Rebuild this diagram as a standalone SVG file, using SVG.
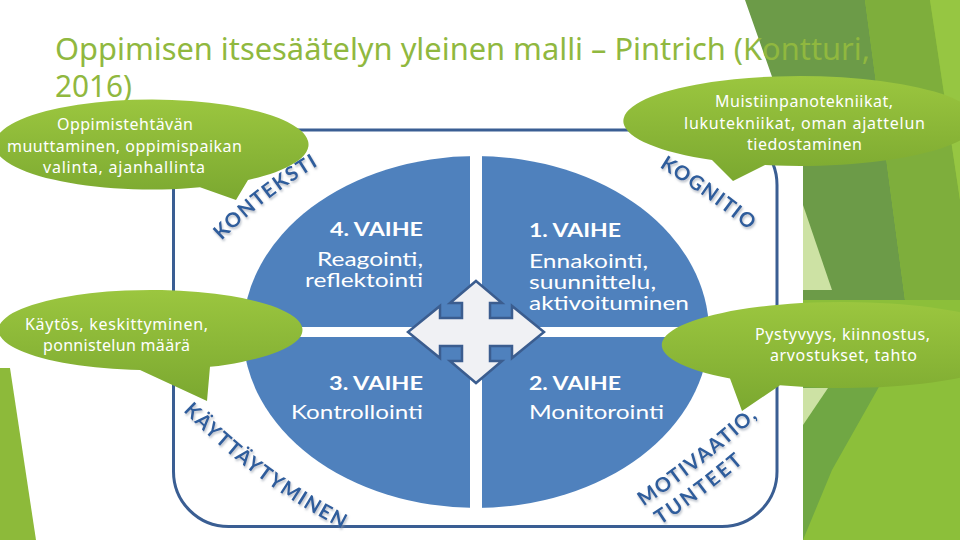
<svg xmlns="http://www.w3.org/2000/svg" width="960" height="540" viewBox="0 0 960 540">
<defs>
<style>
.title{font-family:"Noto Sans","Liberation Sans",sans-serif;font-size:30px;fill:#90B83F}
.bub{font-family:"Noto Sans","Liberation Sans",sans-serif;font-size:16px;fill:#FFFFFF}
.qh{font-family:Lato,"Liberation Sans",sans-serif;font-size:19px;font-weight:700;fill:#FFFFFF}
.qt{font-family:Lato,"Liberation Sans",sans-serif;font-size:19px;fill:#FFFFFF}
.arc{font-family:Lato,"Liberation Sans",sans-serif;font-size:20px;font-weight:700;fill:#2E5D9C;letter-spacing:1.5px}
.quad{fill:#4F81BD}
.bubble{fill:url(#bg)}
</style>
<linearGradient id="bg" x1="0" y1="0" x2="0" y2="1">
<stop offset="0" stop-color="#9BC63F"/>
<stop offset="1" stop-color="#7BA830"/>
</linearGradient>
<clipPath id="circ"><ellipse cx="476" cy="332" rx="233" ry="176"/></clipPath>
<filter id="sh" x="-20%" y="-20%" width="140%" height="140%">
<feDropShadow dx="1" dy="2" stdDeviation="1" flood-color="#8A94A6" flood-opacity="0.6"/>
</filter>
<path id="pKon" d="M 216 246 Q 267 194 326 161"/>
<path id="pKog" d="M 651 162 Q 711 198 757 237"/>
<path id="pKay" d="M 177 405 Q 255 486 351 533"/>
<path id="pMot" d="M 635 512 Q 703 468 766 409"/>
<path id="pTun" d="M 654 529 Q 704 497 751 456"/>
</defs>
<rect x="0" y="0" width="960" height="540" fill="#FFFFFF"/>
<g id="decor">
<rect x="803" y="0" width="157" height="540" fill="#8CBF3A"/>
<polygon points="745,0 865,0 905,300 803,300 803,165" fill="#6C9B48"/>
<polygon points="865,0 930,0 960,200 960,300 905,300" fill="#7EAE3C"/>
<polygon points="930,0 960,0 960,200" fill="#96C642"/>
<polygon points="803,205 832,290 803,290" fill="#CDE2A4"/>
<polygon points="803,385 880,385 832,470 803,540" fill="#70A744"/>
<polygon points="803,388 828,388 803,425" fill="#CDE2A4"/>
<polygon points="0,368 10,368 36,540 0,540" fill="#8DBA3A"/>
</g>
<g id="title">
<text class="title" x="55" y="60" textLength="815" lengthAdjust="spacingAndGlyphs">Oppimisen itsesäätelyn yleinen malli – Pintrich (Kontturi,</text>
<text class="title" x="55" y="97" textLength="77" lengthAdjust="spacingAndGlyphs">2016)</text>
</g>
<g id="frame">
<rect x="173.5" y="130" width="603.5" height="396.5" rx="55" ry="55" fill="none" stroke="#3A5E93" stroke-width="3"/>
</g>
<g id="phase4">
<rect class="quad" x="243" y="156" width="227" height="171" clip-path="url(#circ)"/>
<text class="qh" x="330" y="236" textLength="93" lengthAdjust="spacingAndGlyphs">4. VAIHE</text>
<text class="qt" x="317" y="266" textLength="106" lengthAdjust="spacingAndGlyphs">Reagointi,</text>
<text class="qt" x="305" y="287" textLength="118" lengthAdjust="spacingAndGlyphs">reflektointi</text>
</g>
<g id="phase1">
<rect class="quad" x="482" y="156" width="227" height="171" clip-path="url(#circ)"/>
<text class="qh" x="529" y="237" textLength="92" lengthAdjust="spacingAndGlyphs">1. VAIHE</text>
<text class="qt" x="529" y="268" textLength="119" lengthAdjust="spacingAndGlyphs">Ennakointi,</text>
<text class="qt" x="529" y="289" textLength="127" lengthAdjust="spacingAndGlyphs">suunnittelu,</text>
<text class="qt" x="529" y="310" textLength="160" lengthAdjust="spacingAndGlyphs">aktivoituminen</text>
</g>
<g id="phase3">
<rect class="quad" x="243" y="337" width="227" height="171" clip-path="url(#circ)"/>
<text class="qh" x="329" y="390" textLength="94" lengthAdjust="spacingAndGlyphs">3. VAIHE</text>
<text class="qt" x="291" y="419" textLength="132" lengthAdjust="spacingAndGlyphs">Kontrollointi</text>
</g>
<g id="phase2">
<rect class="quad" x="482" y="337" width="227" height="171" clip-path="url(#circ)"/>
<text class="qh" x="529" y="390" textLength="92" lengthAdjust="spacingAndGlyphs">2. VAIHE</text>
<text class="qt" x="529" y="419" textLength="135" lengthAdjust="spacingAndGlyphs">Monitorointi</text>
</g>
<g id="connectors">
<path d="M476,281 L502,303 L490,303 L490,318 L512,318 L512,306 L544,332 L512,358 L512,346 L490,346 L490,361 L502,361 L476,383 L450,361 L462,361 L462,346 L440,346 L440,358 L408,332 L440,306 L440,318 L462,318 L462,303 L450,303 Z" fill="#F0F1F4" stroke="#3B5D8F" stroke-width="2.5" stroke-linejoin="miter"/>
</g>
<g id="ring-labels" filter="url(#sh)">
<text class="arc"><textPath href="#pKon" startOffset="50%" text-anchor="middle">KONTEKSTI</textPath></text>
<text class="arc"><textPath href="#pKog" startOffset="50%" text-anchor="middle">KOGNITIO</textPath></text>
<text class="arc"><textPath href="#pKay" startOffset="50%" text-anchor="middle">KÄYTTÄYTYMINEN</textPath></text>
<text class="arc"><textPath href="#pMot" startOffset="50%" text-anchor="middle">MOTIVAATIO,</textPath></text>
<text class="arc" style="letter-spacing:2.5px"><textPath href="#pTun" startOffset="50%" text-anchor="middle">TUNTEET</textPath></text>
</g>
<g id="bubble-context">
<path class="bubble" d="M 200 187.3 L 236 200 L 248 180 A 157 45 0 1 0 200 187.3 Z"/>
<text class="bub" x="57" y="130" textLength="136">Oppimistehtävän</text>
<text class="bub" x="7" y="152" textLength="235">muuttaminen, oppimispaikan</text>
<text class="bub" x="43" y="173" textLength="162">valinta, ajanhallinta</text>
</g>
<g id="bubble-cognition">
<path class="bubble" d="M 712 160 L 733 181 L 765 165.1 A 177 45 0 1 0 712 160 Z"/>
<text class="bub" x="715" y="107" textLength="178">Muistiinpanotekniikat,</text>
<text class="bub" x="684" y="129" textLength="241">lukutekniikat, oman ajattelun</text>
<text class="bub" x="747" y="150" textLength="115">tiedostaminen</text>
</g>
<g id="bubble-behaviour">
<path class="bubble" d="M 140 369.9 L 207 401 L 210 366.8 A 152 40 0 1 0 140 369.9 Z"/>
<text class="bub" x="25" y="330" textLength="183">Käytös, keskittyminen,</text>
<text class="bub" x="43" y="351" textLength="147">ponnistelun määrä</text>
</g>
<g id="bubble-motivation">
<path class="bubble" d="M 730 378.6 L 742 411 L 780 385.3 A 181 43 0 1 0 730 378.6 Z"/>
<text class="bub" x="755" y="340" textLength="175">Pystyvyys, kiinnostus,</text>
<text class="bub" x="770" y="361" textLength="147">arvostukset, tahto</text>
</g>
</svg>
